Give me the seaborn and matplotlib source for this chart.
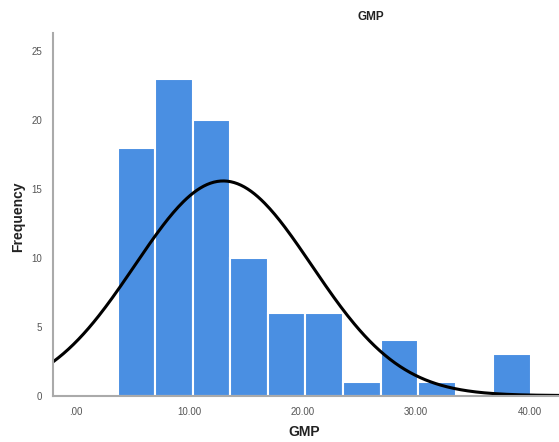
import numpy as np
import matplotlib
matplotlib.use('Agg')
import matplotlib.pyplot as plt
import seaborn as sns

# Histogram bins and counts per bin
bin_edges = [3.7, 7.01, 10.32, 13.63, 16.94, 20.25, 23.56, 26.87, 30.18, 33.49, 36.8, 40.11]
counts = [18, 23, 20, 10, 6, 6, 1, 4, 1, 0, 3]

# Normal curve parameters
mean_gmp = 13.0
sd_gmp = 7.8
n_obs = sum(counts)

x_ticks = [0, 10, 20, 30, 40]
x_tick_labels = ['.00', '10.00', '20.00', '30.00', '40.00']
y_ticks = [0, 5, 10, 15, 20, 25]

sns.set_style('white')
plt.rcParams['font.family'] = ['Arial', 'Liberation Sans', 'DejaVu Sans']

fig = plt.figure(figsize=(5.59, 4.42), dpi=100)
ax = fig.add_axes([0.095, 0.105, 0.905, 0.82])

centers = [(bin_edges[i] + bin_edges[i + 1]) / 2 for i in range(len(counts))]
sns.histplot(x=centers, weights=counts, bins=bin_edges, color='#4a8fe2',
             edgecolor='white', linewidth=1.5, alpha=1, ax=ax)

# Normal curve scaled to the histogram
bin_width = bin_edges[1] - bin_edges[0]
xs = np.linspace(-2.0, 42.6, 300)
ys = n_obs * bin_width / (sd_gmp * np.sqrt(2 * np.pi)) * np.exp(-0.5 * ((xs - mean_gmp) / sd_gmp) ** 2)
sns.lineplot(x=xs, y=ys, color='black', linewidth=2.2, ax=ax)

ax.set_xlim(-2.0, 42.6)
ax.set_ylim(0, 26.3)
ax.set_xticks(x_ticks)
ax.set_xticklabels(x_tick_labels)
ax.set_yticks(y_ticks)
ax.tick_params(axis='both', labelsize=7, colors='#555555', length=0, pad=8)

for side in ['top', 'right']:
    ax.spines[side].set_visible(False)
for side in ['left', 'bottom']:
    ax.spines[side].set_color('#aaaaaa')
    ax.spines[side].set_linewidth(1.5)

ax.set_xlabel('')
ax.set_ylabel('')
fig.text(0.545, 0.022, 'GMP', ha='center', va='center', fontsize=10, fontweight='bold', color='#222222')
fig.text(0.032, 0.51, 'Frequency', ha='center', va='center', rotation=90, fontsize=10, fontweight='bold', color='#222222')
fig.text(0.664, 0.962, 'GMP', ha='center', va='center', fontsize=8.5, fontweight='bold', color='#222222')

fig.savefig('out.png', dpi=100)
